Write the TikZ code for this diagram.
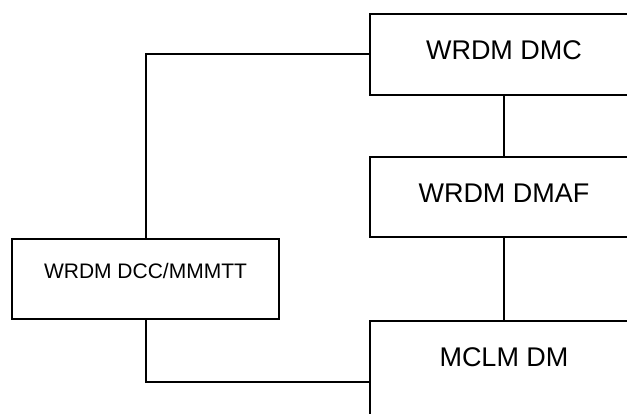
\documentclass[tikz,border=0pt]{standalone}
\usepackage{fontspec}
\setmainfont{Liberation Sans}
\begin{document}
\begin{tikzpicture}[x=1pt,y=1pt,
  boxbig/.style={draw, line width=2pt, inner sep=0pt, font=\fontsize{27}{30}\selectfont, text height=19pt},
  boxsmall/.style={draw, line width=2pt, inner sep=0pt, font=\fontsize{21}{24}\selectfont, text height=15pt},
  conn/.style={line width=2pt}]
\useasboundingbox (0,0) rectangle (627,-414);
\clip (0,0) rectangle (627,-414);
\node[boxbig, minimum width=268pt, minimum height=81pt, text depth=9pt] (dmc) at (504,-54.5) {WRDM DMC};
\node[boxbig, minimum width=268pt, minimum height=80pt, text depth=8pt] (dmaf) at (504,-197) {WRDM DMAF};
\node[boxbig, minimum width=268pt, minimum height=122pt, text depth=50pt] (mclm) at (504,-382) {MCLM DM};
\node[boxsmall, minimum width=267pt, minimum height=80pt, text depth=16pt] (dcc) at (145.5,-279) {WRDM DCC/MMMTT};
\draw[conn] (dmc.south) -- (dmaf.north);
\draw[conn] (dmaf.south) -- (mclm.north);
\draw[conn] (dcc.north) |- (dmc.west);
\draw[conn] (dcc.south) |- (mclm.west);
\end{tikzpicture}
\end{document}
